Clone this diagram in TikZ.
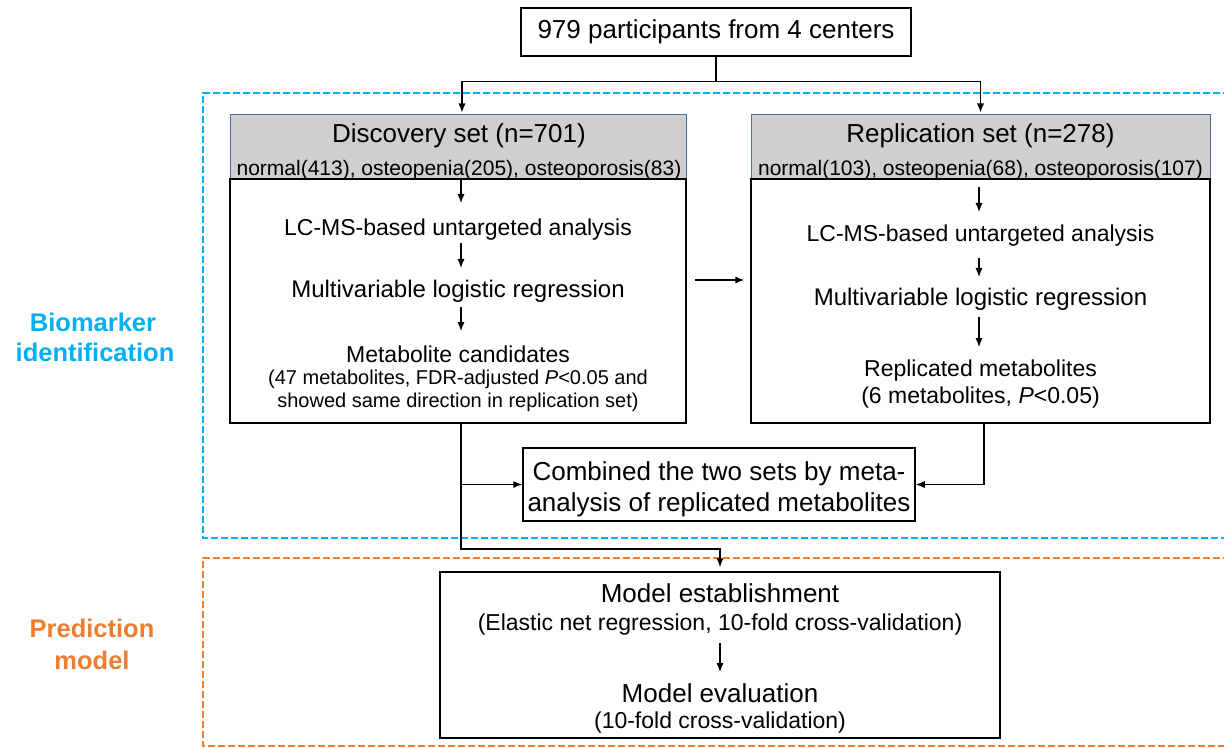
\documentclass[tikz,border=0pt]{standalone}
\usepackage{fontspec}
\setmainfont{Liberation Sans}
\usetikzlibrary{arrows.meta,calc}
\definecolor{cyanlab}{HTML}{00B0F0}
\definecolor{orangelab}{HTML}{ED7D31}
\definecolor{hdrfill}{HTML}{D0CECE}
\definecolor{hdrline}{HTML}{41719C}
\begin{document}
\begin{tikzpicture}[x=0.5pt,y=-0.5pt,
  box/.style={draw=black,line width=0.75pt,inner sep=0pt},
  hdrbox/.style={draw=hdrline,fill=hdrfill,line width=0.5pt,inner sep=0pt},
  txt/.style={inner sep=0pt,anchor=base},
  arr/.style={line width=0.6pt,-{Latex[length=4.5pt,width=3.6pt]}},
  conn/.style={line width=0.6pt},
  fbig/.style={font=\fontsize{13pt}{15.5pt}\selectfont},
  fsub/.style={font=\fontsize{10.5pt}{12.5pt}\selectfont},
  fmid/.style={font=\fontsize{11.5pt}{13.5pt}\selectfont},
  fmidb/.style={font=\fontsize{12pt}{14pt}\selectfont},
  fsml/.style={font=\fontsize{10pt}{12pt}\selectfont},
  lab/.style={inner sep=0pt,anchor=base,font=\fontsize{12.75pt}{15pt}\selectfont\bfseries},
  bluedash/.style={cyanlab,line width=0.75pt,dash pattern=on 3.5pt off 1.5pt},
  orangedash/.style={orangelab,line width=0.75pt,dash pattern=on 3.5pt off 1.5pt}
]
\useasboundingbox (0,0) rectangle (1224,748);

% dashed group frames
\draw[bluedash] (1230,93) -- (203,93) -- (203,538) -- (1230,538);
\draw[orangedash] (1230,558) -- (203,558) -- (203,746) -- (1230,746);

% side labels
\node[lab,text=cyanlab] (bm1) at (93,331) {Biomarker};
\node[lab,text=cyanlab] (bm2) at (95,361) {identification};
\node[lab,text=orangelab] (pm1) at (92,637) {Prediction};
\node[lab,text=orangelab] (pm2) at (92,669) {model};

% top
\node[box,minimum width=195pt,minimum height=24pt,fbig] (top) at (716,32) {979 participants from 4 centers};

% discovery
\node[hdrbox,minimum width=228pt,minimum height=32pt] (hd) at (458,147) {};
\node[box,minimum width=228pt,minimum height=122pt] (bd) at (458,301) {};
\node[txt,fbig] (dt) at (459,142.5) {Discovery set (n=701)};
\node[txt,fsub] (ds) at (459,175.5) {normal(413), osteopenia(205), osteoporosis(83)};
\node[txt,fmid] (d1) at (458,236) {LC-MS-based untargeted analysis};
\node[txt,fmidb] (d2) at (458,298) {Multivariable logistic regression};
\node[txt,fmid] (d3) at (458,362) {Metabolite candidates};
\node[txt,fsml] (d4) at (458,384.5) {(47 metabolites, FDR-adjusted \textit{P}<0.05 and};
\node[txt,fsml] (d5) at (458,407) {showed same direction in replication set)};

% replication
\node[hdrbox,minimum width=229.5pt,minimum height=32pt] (rh) at (980.5,147) {};
\node[box,minimum width=229.5pt,minimum height=122pt] (rb) at (980.5,301) {};
\node[txt,fbig] (rt) at (980.5,142.5) {Replication set (n=278)};
\node[txt,fsub] (rs) at (980.5,175.5) {normal(103), osteopenia(68), osteoporosis(107)};
\node[txt,fmid] (r1) at (980.5,241.5) {LC-MS-based untargeted analysis};
\node[txt,fmidb] (r2) at (980.5,306) {Multivariable logistic regression};
\node[txt,fmid] (r3) at (980.5,376) {Replicated metabolites};
\node[txt,fmid] (r4) at (980.5,403) {(6 metabolites, \textit{P}<0.05)};

% combined
\node[box,minimum width=196pt,minimum height=36.5pt] (comb) at (719,484.5) {};
\node[txt,fbig] (c1) at (719,480) {Combined the two sets by meta-};
\node[txt,fbig] (c2) at (719,511) {analysis of replicated metabolites};

% model
\node[box,minimum width=280pt,minimum height=83pt] (mod) at (720,655) {};
\node[txt,fbig] (m1) at (720,602) {Model establishment};
\node[txt,fmid] (m2) at (720,630) {(Elastic net regression, 10-fold cross-validation)};
\node[txt,fbig] (m3) at (720,702.5) {Model evaluation};
\node[txt,fmid] (m4) at (720,728) {(10-fold cross-validation)};

% column reference points
\coordinate (dx) at ([xshift=1.5pt]hd.south);
\coordinate (rx) at ([xshift=-0.75pt]rh.south);
\coordinate (mx) at (mod.north);

% connectors: top split
\draw[conn] (top.south) -- ++(0,25) coordinate (tj);
\draw[arr,shorten >=1pt] (tj) -| ([xshift=2pt]hd.north);
\draw[arr,shorten >=1pt] (tj) -| (rh.north);

% discovery internal
\draw[arr] (dx |- 0,180) -- (dx |- 0,203);
\draw[arr] (dx |- 0,243) -- (dx |- 0,268);
\draw[arr] (dx |- 0,307) -- (dx |- 0,331);

% replication internal
\draw[arr] (rx |- 0,187) -- (rx |- 0,212);
\draw[arr] (rx |- 0,258) -- (rx |- 0,277);
\draw[arr] (rx |- 0,317) -- (rx |- 0,347);

% discovery -> replication
\draw[arr,shorten <=4pt,shorten >=3pt] ([yshift=10.5pt]bd.east) -- ([yshift=10.5pt]rb.west);

% to combined and model
\draw[arr,shorten >=2pt] ([xshift=1.5pt]bd.south) -- ([xshift=1.5pt]bd.south |- 0,549) -| (mod.north);
\draw[arr] ([xshift=1.5pt]bd.south |- comb.west) -- (comb.west);
\draw[arr] ([xshift=1.75pt]rb.south) |- (comb.east);

% model internal
\draw[arr] (mx |- 0,643) -- (mx |- 0,672);
\end{tikzpicture}
\end{document}
